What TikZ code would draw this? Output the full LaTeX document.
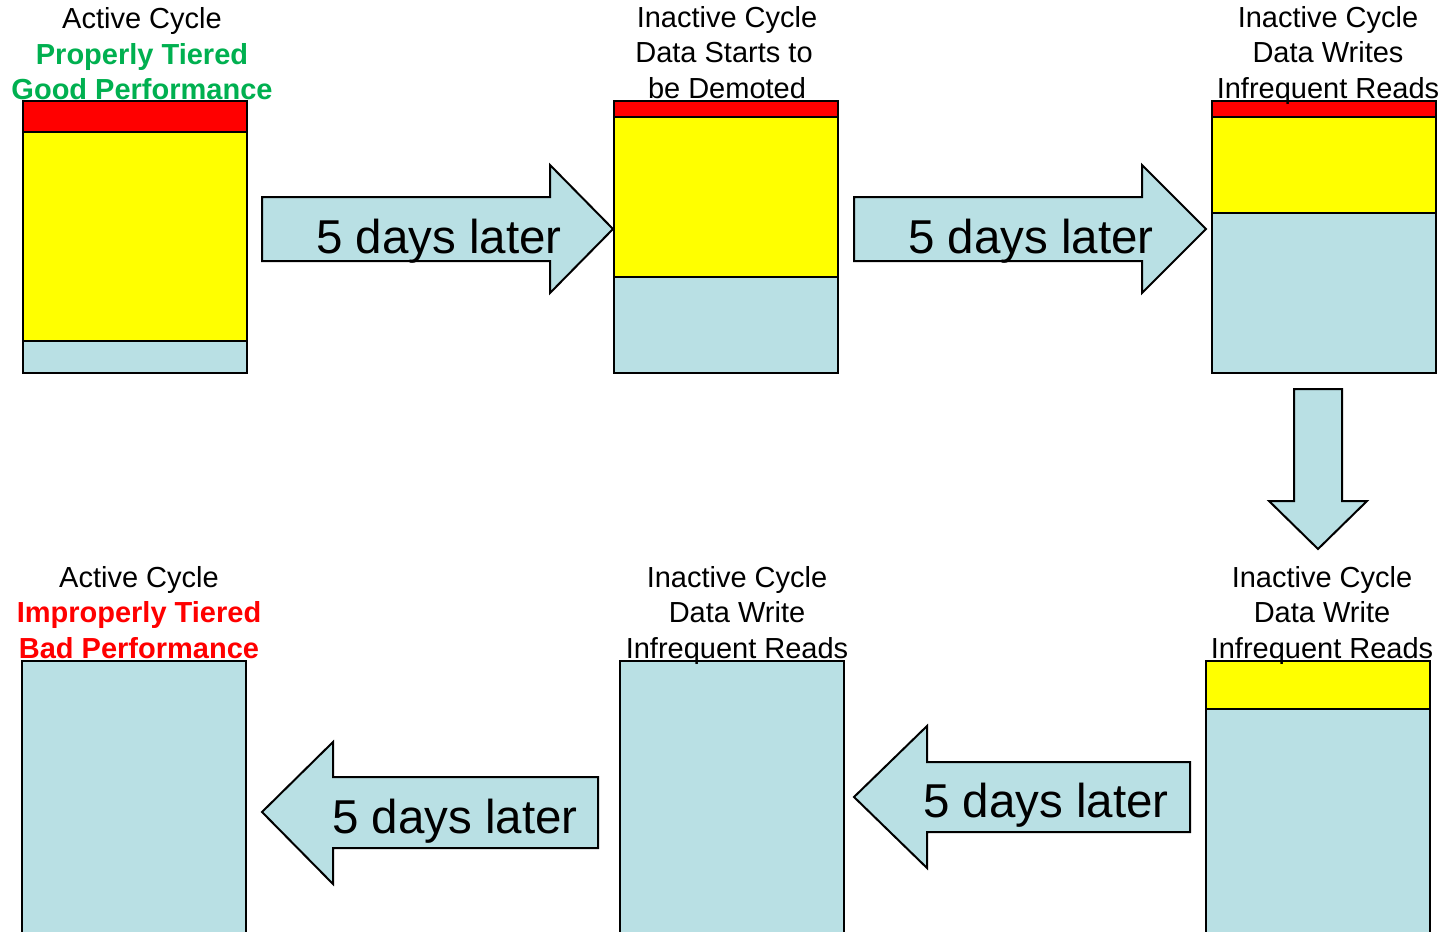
\documentclass[tikz,border=0pt]{standalone}
\usepackage{fontspec}
\setmainfont{Liberation Sans}
\definecolor{lblue}{RGB}{185,224,228}
\definecolor{ggreen}{RGB}{0,176,80}
\definecolor{rred}{RGB}{255,0,0}
\definecolor{yyellow}{RGB}{255,255,0}
\begin{document}
\begin{tikzpicture}[x=1pt,y=-1pt,
  seg/.style={draw=black,line width=2pt,inner sep=0pt,outer sep=0pt,minimum width=224pt,anchor=north west},
  lbl/.style={anchor=base,inner sep=0pt,font=\fontsize{29}{35.5}\selectfont},
  blbl/.style={lbl,font=\fontsize{29}{35.5}\selectfont\bfseries},
  blockarrow/.style={draw=black,line width=2pt,fill=lblue,line join=miter},
  arrtxt/.style={anchor=base,inner sep=0pt,font=\fontsize{47.5}{52}\selectfont}]
\useasboundingbox (0,0) rectangle (1447,931);
\clip (0,0) rectangle (1447,931);
\fill[white] (0,0) rectangle (1447,931);
% Box 1
\node[seg,fill=rred,minimum height=31pt] (b1r) at (23,101) {};
\node[seg,fill=yyellow,minimum height=209pt] (b1y) at (23,132) {};
\node[seg,fill=lblue,minimum height=32pt] (b1b) at (23,341) {};
% Box 2
\node[seg,fill=rred,minimum height=16pt] (b2r) at (614,101) {};
\node[seg,fill=yyellow,minimum height=160pt] (b2y) at (614,117) {};
\node[seg,fill=lblue,minimum height=96pt] (b2b) at (614,277) {};
% Box 3
\node[seg,fill=rred,minimum height=16pt] (b3r) at (1212,101) {};
\node[seg,fill=yyellow,minimum height=96pt] (b3y) at (1212,117) {};
\node[seg,fill=lblue,minimum height=160pt] (b3b) at (1212,213) {};
% Box 4
\node[seg,fill=yyellow,minimum height=48pt] (b4y) at (1206,661) {};
\node[seg,fill=lblue,minimum height=290pt] (b4b) at (1206,709) {};
% Box 5
\node[seg,fill=lblue,minimum height=300pt] (b5b) at (620,661) {};
% Box 6
\node[seg,fill=lblue,minimum height=300pt] (b6b) at (22,661) {};
% Block arrows
\draw[blockarrow] (262,197) -- (550,197) -- (550,165) -- (613,229) -- (550,293) -- (550,261) -- (262,261) -- cycle;
\node[arrtxt] (t1) at (439,253) {5 days later};
\draw[blockarrow] (854,197) -- (1142,197) -- (1142,165) -- (1206,229) -- (1142,293) -- (1142,261) -- (854,261) -- cycle;
\node[arrtxt] (t2) at (1031,253) {5 days later};
\draw[blockarrow] (1294,389) -- (1342,389) -- (1342,501) -- (1367,501) -- (1318,549) -- (1269,501) -- (1294,501) -- cycle;
\draw[blockarrow] (1190,762) -- (927,762) -- (927,726) -- (854,797) -- (927,868) -- (927,832) -- (1190,832) -- cycle;
\node[arrtxt] (t4) at (1046,817) {5 days later};
\draw[blockarrow] (598,777) -- (333,777) -- (333,742) -- (262,812) -- (333,884) -- (333,848) -- (598,848) -- cycle;
\node[arrtxt] (t5) at (455,833) {5 days later};
% Labels top
\node[lbl] (l1a) at (142,29) {Active Cycle};
\node[blbl,text=ggreen] (l1b) at (142,64.5) {Properly Tiered};
\node[blbl,text=ggreen] (l1c) at (142,100) {Good Performance};
\node[lbl] (l2a) at (727,28) {Inactive Cycle};
\node[lbl] (l2b) at (724,63) {Data Starts to};
\node[lbl] (l2c) at (727,99) {be Demoted};
\node[lbl] (l3a) at (1328,28) {Inactive Cycle};
\node[lbl] (l3b) at (1328,63) {Data Writes};
\node[lbl] (l3c) at (1328,99) {Infrequent Reads};
% Labels bottom
\node[lbl] (l4a) at (1322,587) {Inactive Cycle};
\node[lbl] (l4b) at (1322,622) {Data Write};
\node[lbl] (l4c) at (1322,658) {Infrequent Reads};
\node[lbl] (l5a) at (737,587) {Inactive Cycle};
\node[lbl] (l5b) at (737,622) {Data Write};
\node[lbl] (l5c) at (737,658) {Infrequent Reads};
\node[lbl] (l6a) at (139,587) {Active Cycle};
\node[blbl,text=rred] (l6b) at (139,622) {Improperly Tiered};
\node[blbl,text=rred] (l6c) at (139,658) {Bad Performance};
\end{tikzpicture}
\end{document}
